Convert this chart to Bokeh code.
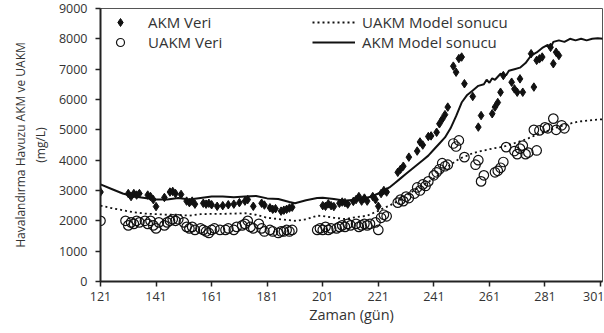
from bokeh.plotting import figure
from bokeh.models import Legend, LegendItem, FixedTicker, Range1d
from bokeh.embed import file_html
from bokeh.resources import INLINE

# ---------------- data ----------------
akm_day = [121, 131, 132, 133, 134, 135, 138, 139, 140, 141, 144, 146, 147, 148,
           150, 152, 153, 154, 155, 158, 159, 160, 161, 163, 165, 167, 169, 171,
           173, 174, 176, 179, 180, 182, 183, 184, 186, 187, 188, 189, 190,
           201, 202, 203, 204, 205, 207, 208, 209, 210, 212, 213, 214, 215, 216, 217,
           219, 220, 221, 222, 223, 224, 228, 229, 230, 232, 235, 236, 237, 239, 240,
           242, 243, 244, 245, 246, 248, 249, 250, 251, 252, 255, 257, 258,
           262, 263, 264, 265, 266, 269, 270, 271, 272, 273, 276, 277, 278, 279, 280,
           283, 284, 285, 286]
akm_val = [2950, 2900, 2800, 2900, 2850, 2900, 2850, 2800, 2700, 2470, 2770, 2950, 2970, 2900,
           2870, 2650, 2600, 2650, 2550, 2580, 2550, 2580, 2530, 2480, 2500, 2530, 2550, 2600,
           2650, 2700, 2480, 2580, 2520, 2430, 2380, 2400, 2320, 2350, 2380, 2420, 2450,
           2500, 2480, 2560, 2500, 2470, 2580, 2620, 2600, 2550, 2640, 2700, 2800, 2650, 2750, 2650,
           2800, 2700, 2480, 2900, 3000, 2950, 3600, 3700, 3800, 4100, 4300, 4600, 4500, 4780, 4800,
           4920, 5200, 5350, 5500, 5750, 7100, 6900, 7350, 7400, 6520, 6100, 5090, 5470,
           5530, 5750, 5900, 6240, 6790, 6570, 6350, 6240, 6680, 6240, 7510, 6410, 7290, 7340, 7400,
           7720, 7180, 7560, 7450]

uakm_day = [121, 130, 131, 132, 133, 134, 135, 137, 138, 139, 140, 141, 142,
            144, 145, 146, 147, 148, 149, 151, 152, 153, 154, 155,
            157, 158, 159, 160, 161, 162, 164, 166, 167, 169, 170, 172, 173, 174,
            175, 176, 178, 179, 180, 182, 183, 185, 186, 187, 188, 189, 190,
            199, 200, 201, 202, 203, 204, 206, 207, 208, 209, 210, 211,
            213, 214, 215, 216, 217, 218, 220, 221, 222, 223, 224,
            228, 229, 230, 231, 232, 234, 235, 236, 237, 238, 239,
            241, 242, 243, 244, 245, 246, 248, 249, 250, 252,
            256, 257, 258, 259, 263, 264, 265, 266, 267,
            270, 271, 272, 273, 274, 275, 278, 277, 279, 281, 282,
            284, 285, 287, 288]
uakm_val = [2000, 2000, 1850, 1950, 1900, 2000, 1950, 2000, 1900, 2000, 1850, 1750, 1950,
            1850, 1950, 2000, 2050, 2000, 2050, 1950, 1800, 1750, 1800, 1700,
            1750, 1700, 1650, 1600, 1700, 1750, 1700, 1700, 1750, 1700, 1800, 1850, 1900, 2000,
            1800, 1750, 1900, 1750, 1650, 1700, 1650, 1600, 1650, 1650, 1700, 1650, 1700,
            1700, 1750, 1700, 1800, 1700, 1750, 1750, 1800, 1850, 1800, 1900, 1850,
            1900, 1800, 1850, 1900, 1850, 1900, 1950, 1700, 2100, 2200, 2150,
            2600, 2700, 2650, 2800, 2750, 2900, 3100, 3000, 3200, 3150, 3300,
            3500, 3600, 3700, 3900, 3800, 3850, 4550, 4450, 4650, 4100,
            3850, 4000, 3300, 3500, 3600, 3650, 3750, 3940, 4430,
            4300, 4200, 4380, 4480, 4200, 4250, 4320, 5000, 4980, 5080, 5050,
            5370, 5000, 5150, 5050]

akm_model_day = [121, 125, 129, 133, 137, 141, 145, 149, 153, 157, 161, 165, 169, 173, 177,
                 181, 185, 189, 191, 195, 199, 201, 205, 209, 213, 217, 219, 221, 223, 225,
                 227, 229, 231, 233, 235, 237, 239, 241, 243, 245, 247, 249, 251, 253, 255,
                 257, 259, 260, 261, 262, 263, 265, 267, 268, 270, 272, 274, 276, 278, 280,
                 282, 283, 284, 286, 288, 290, 292, 294, 296, 298, 300, 302]
akm_model_val = [3200, 3050, 2900, 2800, 2750, 2700, 2700, 2750, 2700, 2750, 2800, 2800, 2780, 2800, 2820,
                 2740, 2720, 2620, 2580, 2680, 2750, 2760, 2720, 2660, 2700, 2760, 2820, 2900, 3000, 3100,
                 3250, 3400, 3550, 3700, 3850, 4000, 4150, 4350, 4550, 4750, 5050, 5450, 5900, 6150, 6300,
                 6450, 6500, 6650, 6550, 6700, 6650, 6850, 6800, 6950, 7000, 7050, 7200, 7450, 7550, 7700,
                 7800, 7700, 7900, 7950, 7900, 8000, 7950, 8000, 7950, 8000, 8020, 8000]

uakm_model_day = [121, 125, 129, 133, 137, 141, 145, 149, 153, 157, 161, 165, 169, 173, 177,
                  181, 185, 189, 191, 195, 199, 201, 205, 209, 213, 217, 219, 221, 223, 225,
                  227, 229, 231, 233, 235, 237, 239, 241, 243, 245, 247, 249, 251, 253, 255,
                  257, 259, 261, 263, 265, 267, 269, 271, 273, 275, 277, 279, 281, 283, 285,
                  287, 289, 291, 293, 295, 297, 299, 302]
uakm_model_val = [2500, 2420, 2350, 2280, 2240, 2220, 2200, 2200, 2170, 2220, 2230, 2230, 2240, 2250, 2200,
                  2100, 2060, 2020, 2000, 2050, 2170, 2160, 2100, 2060, 2120, 2170, 2250, 2330, 2420, 2500,
                  2600, 2700, 2830, 2950, 3070, 3180, 3280, 3400, 3550, 3720, 3850, 3980, 4080, 4150, 4230,
                  4280, 4320, 4360, 4400, 4430, 4470, 4530, 4590, 4650, 4720, 4800, 4870, 4930, 5000, 5070,
                  5130, 5180, 5230, 5270, 5290, 5310, 5330, 5350]

x_ticks = [121, 141, 161, 181, 201, 221, 241, 261, 281, 301]
y_ticks = [0, 1000, 2000, 3000, 4000, 5000, 6000, 7000, 8000, 9000]

FONT = "Open Sans"
TXT = "#333333"

p = figure(width=604, height=333, output_backend="svg", toolbar_location=None,
           x_range=Range1d(121, 301.7), y_range=Range1d(0, 9000),
           min_border_left=100, min_border_right=2, min_border_top=8, min_border_bottom=52)
p.background_fill_color = "white"
p.border_fill_color = "white"
p.xgrid.visible = False
p.ygrid.visible = False
p.outline_line_color = "#555555"
p.outline_line_width = 1

for ax in (p.xaxis, p.yaxis):
    ax.axis_line_color = "#222222"
    ax.axis_line_width = 2
    ax.major_tick_line_color = "#222222"
    ax.major_tick_line_width = 1.5
    ax.major_tick_in = 0
    ax.major_tick_out = 5
    ax.minor_tick_line_color = None
    ax.major_label_text_font = FONT
    ax.major_label_text_font_size = "12.5px"
    ax.major_label_text_color = TXT
    ax.axis_label_text_font = FONT
    ax.axis_label_text_font_style = "normal"
    ax.axis_label_text_color = TXT

p.xaxis.ticker = FixedTicker(ticks=x_ticks)
p.yaxis.ticker = FixedTicker(ticks=y_ticks)
p.xaxis.axis_label = "Zaman (gün)"
p.yaxis.axis_label = "Havalandırma Havuzu AKM ve UAKM\n(mg/L)"
p.xaxis.axis_label_text_font_size = "14.5px"
p.yaxis.axis_label_text_font_size = "12px"
p.xaxis.major_label_standoff = 5
p.yaxis.major_label_standoff = 8
p.xaxis.axis_label_standoff = 1
p.yaxis.axis_label_standoff = 7

r_akm_model = p.line(akm_model_day, akm_model_val, line_color="#111111", line_width=2)
r_uakm_model = p.line(uakm_model_day, uakm_model_val, line_color="#111111", line_width=1.8,
                      line_dash="2 3")
r_akm = p.scatter(akm_day, akm_val, marker="diamond", size=8.5,
                  fill_color="#111111", line_color="#111111", line_width=1)
r_uakm = p.scatter(uakm_day, uakm_val, marker="circle", size=9.5, fill_color=None,
                   line_color="#111111", line_width=1.2)

common = dict(label_text_font=FONT, label_text_font_size="15px", label_text_color=TXT,
              glyph_height=20, label_height=20, spacing=0, padding=0, margin=0,
              border_line_color=None, background_fill_alpha=0)

leg1 = Legend(items=[LegendItem(label="AKM Veri", renderers=[r_akm]),
                     LegendItem(label="UAKM Veri", renderers=[r_uakm])],
              location=(10, 229), glyph_width=20, label_standoff=18, **common)
leg2 = Legend(items=[LegendItem(label="UAKM Model sonucu", renderers=[r_uakm_model]),
                     LegendItem(label="AKM Model sonucu", renderers=[r_akm_model])],
              location=(212, 229), glyph_width=43, label_standoff=7, **common)
p.add_layout(leg1)
p.add_layout(leg2)

open("out.html", "w").write(file_html(p, INLINE))
